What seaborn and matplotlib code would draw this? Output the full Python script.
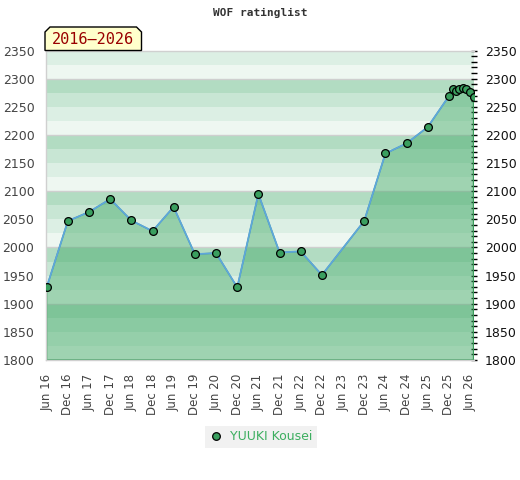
import matplotlib
matplotlib.use("Agg")
import matplotlib.pyplot as plt
from matplotlib.ticker import MultipleLocator
from matplotlib.patches import Polygon
from matplotlib.lines import Line2D
import seaborn as sns
import pandas as pd

# ---- data ----
dates = ["2016-06", "2016-12", "2017-06", "2017-12", "2018-06", "2018-12",
         "2019-06", "2019-12", "2020-06", "2020-12", "2021-06", "2021-12",
         "2022-06", "2022-12", "2023-12", "2024-06", "2024-12", "2025-06",
         "2025-12", "2026-01", "2026-02", "2026-03", "2026-04", "2026-05",
         "2026-06", "2026-07"]
ratings = [1929, 2047, 2063, 2086, 2048, 2029, 2072, 1988, 1990, 1929, 2095,
           1991, 1993, 1951, 2047, 2167, 2185, 2214, 2269, 2282, 2278, 2281,
           2283, 2282, 2276, 2267]
tick_dates = ["2016-06", "2016-12", "2017-06", "2017-12", "2018-06", "2018-12",
              "2019-06", "2019-12", "2020-06", "2020-12", "2021-06", "2021-12",
              "2022-06", "2022-12", "2023-06", "2023-12", "2024-06", "2024-12",
              "2025-06", "2025-12", "2026-06"]
tick_labels = ["Jun 16", "Dec 16", "Jun 17", "Dec 17", "Jun 18", "Dec 18",
               "Jun 19", "Dec 19", "Jun 20", "Dec 20", "Jun 21", "Dec 21",
               "Jun 22", "Dec 22", "Jun 23", "Dec 23", "Jun 24", "Dec 24",
               "Jun 25", "Dec 25", "Jun 26"]
player = "YUUKI Kousei"
period = "2016\u20132026"
title = "WOF ratinglist"

df = pd.DataFrame({"date": pd.to_datetime(dates), "rating": ratings})

sns.set_style("white")
plt.rcParams["font.family"] = ["DejaVu Sans"]

fig = plt.figure(figsize=(5.2, 4.8), dpi=100)
ax = fig.add_axes([45.5 / 520, 1 - 360 / 480, (474 - 45.5) / 520, (360 - 50.5) / 480])

ymin, ymax = 1800, 2350
band_cols = ["#eef7f1", "#dcefe4", "#c8e6d4", "#b2dcc2"]
for lo in range(ymin, ymax, 25):
    ax.axhspan(lo, lo + 25, color=band_cols[(lo % 100) // 25], lw=0, zorder=0)
for g in range(1900, ymax, 100):
    ax.axhline(g, color="#cfcfcf", lw=1, zorder=0.5)

ax.fill_between(df["date"], df["rating"], ymin, facecolor="#3fa865", alpha=0.45,
                edgecolor="none", zorder=1)
ax.fill_between(df["date"], df["rating"], ymin, facecolor="none",
                edgecolor="#3a9a5a", lw=1, zorder=1.1)

sns.lineplot(data=df, x="date", y="rating", ax=ax, color="#5ea6dc", lw=1.3,
             marker="o", markersize=5.6, markerfacecolor="#3a9f5f",
             markeredgecolor="black", markeredgewidth=0.9, zorder=3)

ax.set_xlim(pd.Timestamp("2016-05-22"), pd.Timestamp("2026-07-05"))
ax.set_ylim(ymin, ymax)
ax.set_xlabel("")
ax.set_ylabel("")

ax.set_xticks(pd.to_datetime(tick_dates))
ax.set_xticklabels(tick_labels, rotation=90, ha="center", va="top",
                   fontsize=8.5, color="#444444")
ax.tick_params(axis="x", length=0, pad=10)

ax.yaxis.set_major_locator(MultipleLocator(50))
ax.yaxis.set_minor_locator(MultipleLocator(10))
ax.tick_params(axis="y", which="major", left=False, right=True, labelleft=True,
               labelright=True, labelsize=9, direction="inout", length=4,
               width=1, color="black", pad=6)
ax.tick_params(axis="y", which="minor", left=False, right=True,
               direction="inout", length=4, width=1, color="black")
for t in ax.yaxis.get_major_ticks():
    t.label1.set_color("#444444")
    t.label2.set_color("#111111")

for s in ["left", "top", "bottom"]:
    ax.spines[s].set_color("#d0d0d0")
    ax.spines[s].set_linewidth(1)
ax.spines["right"].set_visible(False)

fig.text(0.5, 1 - 13 / 480, title, ha="center", va="center",
         family="DejaVu Sans Mono", weight="bold", fontsize=8, color="#333333")

# period tag with chamfered top corners
x0, x1 = 45 / 520, 141.5 / 520
y0, y1 = 1 - 50.5 / 480, 1 - 27 / 480
cx, cy = 5 / 520, 5 / 480
poly = Polygon([(x0, y0), (x0, y1 - cy), (x0 + cx, y1), (x1 - cx, y1),
                (x1, y1 - cy), (x1, y0)], closed=True, transform=fig.transFigure,
               facecolor="#ffffcc", edgecolor="black", lw=1, zorder=5)
fig.patches.append(poly)
fig.text((x0 + x1) / 2, 1 - 39.5 / 480, period, ha="center", va="center",
         family="DejaVu Sans Mono", fontsize=11, color="#990000", zorder=6)

handle = Line2D([], [], linestyle="none", marker="o", markersize=5.5,
                markerfacecolor="#3a9f5f", markeredgecolor="black",
                markeredgewidth=0.9)
leg = fig.legend([handle], [player], loc="center", bbox_to_anchor=(261 / 520, 1 - 437 / 480),
                 frameon=True, fontsize=9, handlelength=1.0, handletextpad=0.6,
                 borderpad=0.35, fancybox=False)
leg.get_frame().set_facecolor("#eeeeee")
leg.get_frame().set_edgecolor("none")
for txt in leg.get_texts():
    txt.set_color("#3cae5f")

fig.savefig("out.png", dpi=100)
